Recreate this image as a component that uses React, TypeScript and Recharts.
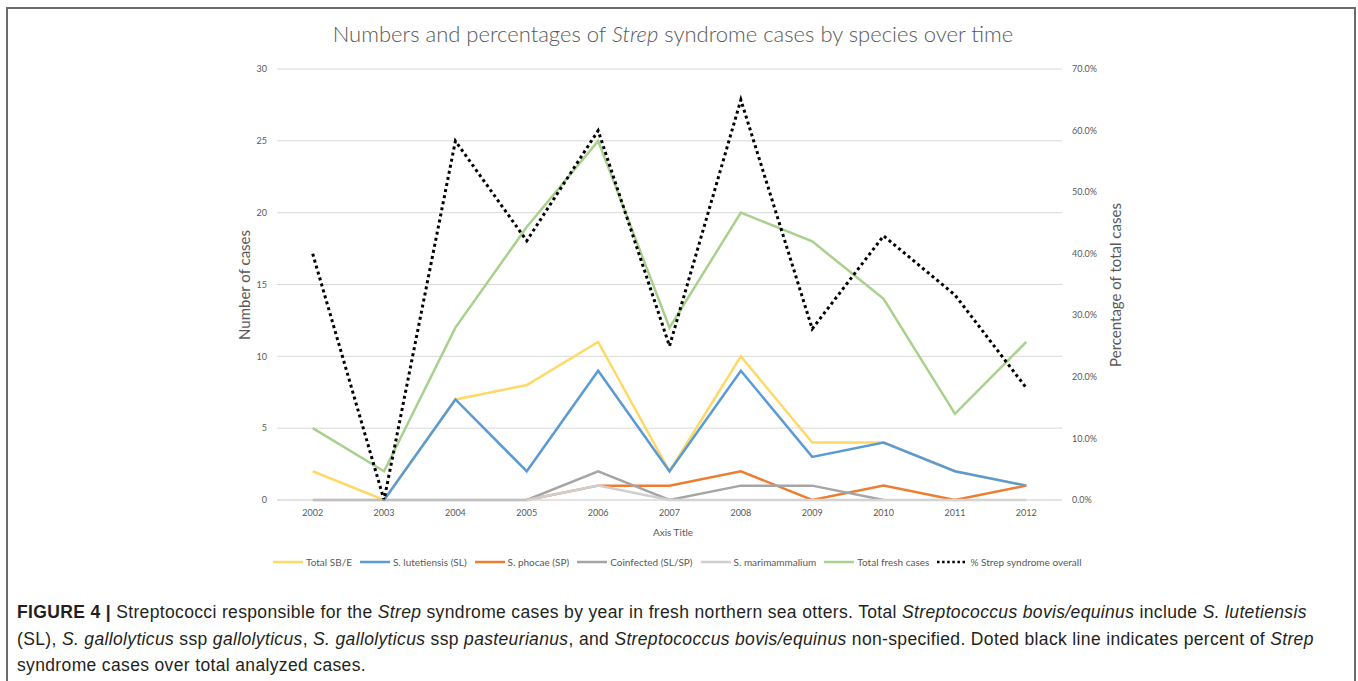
import React from 'react';
import { ComposedChart, Line, XAxis, YAxis, CartesianGrid } from 'recharts';

const years = ['2002', '2003', '2004', '2005', '2006', '2007', '2008', '2009', '2010', '2011', '2012'];
const totalSbe = [2, 0, 7, 8, 11, 2, 10, 4, 4, 2, 1];
const lutetiensis = [null, 0, 7, 2, 9, 2, 9, 3, 4, 2, 1];
const phocae = [null, null, null, 0, 1, 1, 2, 0, 1, 0, 1];
const coinfected = [0, 0, 0, 0, 2, 0, 1, 1, 0, null, null];
const marimammalium = [null, null, null, 0, 1, 0, 0, 0, 0, 0, 0];
const totalFresh = [5, 2, 12, 19, 25, 12, 20, 18, 14, 6, 11];
const strepPct = [40.0, 0.0, 58.3, 42.1, 60.0, 25.0, 65.0, 27.8, 42.9, 33.3, 18.2];

const countTicks = [0, 5, 10, 15, 20, 25, 30];
const pctTicks = [0, 10, 20, 30, 40, 50, 60, 70];

const series = [
  { key: 'sbe', name: 'Total SB/E', color: '#FFD966', values: totalSbe },
  { key: 'sl', name: 'S. lutetiensis (SL)', color: '#5B9BD5', values: lutetiensis },
  { key: 'sp', name: 'S. phocae (SP)', color: '#ED7D31', values: phocae },
  { key: 'co', name: 'Coinfected (SL/SP)', color: '#A5A5A5', values: coinfected },
  { key: 'sm', name: 'S. marimammalium', color: '#D0CECE', values: marimammalium },
  { key: 'fresh', name: 'Total fresh cases', color: '#A9D18E', values: totalFresh },
];

const chartData = years.map((year, i) => {
  const row: Record<string, string | number | null> = { year, pct: strepPct[i] };
  series.forEach((s) => {
    row[s.key] = s.values[i];
  });
  return row;
});

const FONT = 'Lato, "Open Sans", sans-serif';
const GREY = '#595959';
const axisTick = { fill: GREY, fontSize: 9, fontFamily: FONT };

function LegendRow() {
  return (
    <div
      style={{
        position: 'absolute',
        left: 273,
        top: 556,
        display: 'flex',
        alignItems: 'center',
        fontFamily: FONT,
        fontSize: 10,
        color: GREY,
        whiteSpace: 'nowrap',
      }}
    >
      {series.map((s) => (
        <div key={s.key} style={{ display: 'flex', alignItems: 'center', marginRight: 8 }}>
          <svg width={30} height={6} style={{ marginRight: 3 }}>
            <line x1={0} y1={3} x2={30} y2={3} stroke={s.color} strokeWidth={2.5} />
          </svg>
          <span>{s.name}</span>
        </div>
      ))}
      <div style={{ display: 'flex', alignItems: 'center' }}>
        <svg width={29} height={6} style={{ marginRight: 4 }}>
          <line x1={0} y1={3} x2={29} y2={3} stroke="#000" strokeWidth={2.5} strokeDasharray="2.5 2.6" />
        </svg>
        <span>% Strep syndrome overall</span>
      </div>
    </div>
  );
}

export default function App() {
  return (
    <div style={{ position: 'absolute', left: 0, top: 0, width: 1358, height: 681, overflow: 'hidden', background: '#fff' }}>
      <div
        style={{
          position: 'absolute',
          left: 6,
          top: 7,
          width: 1350,
          height: 700,
          border: '2px solid #6b6b6b',
          boxSizing: 'border-box',
        }}
      />
      <div
        style={{
          position: 'absolute',
          left: 0,
          width: 1346,
          top: 20,
          textAlign: 'center',
          fontFamily: FONT,
          fontSize: 22,
          fontWeight: 300,
          color: GREY,
          whiteSpace: 'nowrap',
        }}
      >
        Numbers and percentages of <i>Strep</i> syndrome cases by species over time
      </div>

      <div style={{ position: 'absolute', left: 0, top: 0 }}>
        <ComposedChart
          width={1358}
          height={600}
          data={chartData}
          margin={{ top: 69, right: 246, bottom: 60, left: 227 }}
        >
          <CartesianGrid yAxisId="count" vertical={false} stroke="#d9d9d9" strokeWidth={1} />
          <XAxis
            dataKey="year"
            scale="band"
            height={40}
            tick={axisTick}
            tickLine={false}
            tickSize={0}
            tickMargin={10}
            axisLine={{ stroke: '#d9d9d9' }}
          />
          <YAxis
            yAxisId="count"
            orientation="left"
            width={50}
            domain={[0, 30]}
            ticks={countTicks}
            tick={axisTick}
            tickLine={false}
            tickSize={0}
            tickMargin={10}
            axisLine={false}
          />
          <YAxis
            yAxisId="pct"
            orientation="right"
            width={50}
            domain={[0, 70]}
            ticks={pctTicks}
            tickFormatter={(v: number) => `${v.toFixed(1)}%`}
            tick={axisTick}
            tickLine={false}
            tickSize={0}
            tickMargin={10}
            axisLine={false}
          />
          {series.map((s) => (
            <Line
              key={s.key}
              yAxisId="count"
              type="linear"
              dataKey={s.key}
              name={s.name}
              stroke={s.color}
              strokeWidth={2.5}
              dot={false}
              activeDot={false}
              isAnimationActive={false}
            />
          ))}
          <Line
            yAxisId="pct"
            type="linear"
            dataKey="pct"
            name="% Strep syndrome overall"
            stroke="#000"
            strokeWidth={3}
            strokeDasharray="3 3.2"
            dot={false}
            activeDot={false}
            isAnimationActive={false}
          />
        </ComposedChart>
      </div>

      <div
        style={{
          position: 'absolute',
          left: 244,
          top: 285,
          transform: 'translate(-50%, -50%) rotate(-90deg)',
          fontFamily: FONT,
          fontSize: 15,
          color: GREY,
          whiteSpace: 'nowrap',
        }}
      >
        Number of cases
      </div>
      <div
        style={{
          position: 'absolute',
          left: 1115,
          top: 285,
          transform: 'translate(-50%, -50%) rotate(-90deg)',
          fontFamily: FONT,
          fontSize: 15,
          color: GREY,
          whiteSpace: 'nowrap',
        }}
      >
        Percentage of total cases
      </div>
      <div
        style={{
          position: 'absolute',
          left: 673,
          top: 532,
          transform: 'translate(-50%, -50%)',
          fontFamily: FONT,
          fontSize: 10,
          color: GREY,
          whiteSpace: 'nowrap',
        }}
      >
        Axis Title
      </div>

      <LegendRow />

      <div
        style={{
          position: 'absolute',
          left: 17,
          top: 599,
          fontFamily: '"Liberation Sans", Arial, sans-serif',
          fontSize: 17.5,
          letterSpacing: '0.35px',
          lineHeight: '26.5px',
          color: '#231f20',
          whiteSpace: 'nowrap',
        }}
      >
        <b>FIGURE 4 |</b> Streptococci responsible for the <i>Strep</i> syndrome cases by year in fresh northern sea
        otters. Total <i>Streptococcus bovis/equinus</i> include <i>S. lutetiensis</i>
        <br />
        (SL), <i>S. gallolyticus</i> ssp <i>gallolyticus</i>, <i>S. gallolyticus</i> ssp <i>pasteurianus</i>, and{' '}
        <i>Streptococcus bovis/equinus</i> non-specified. Doted black line indicates percent of <i>Strep</i>
        <br />
        syndrome cases over total analyzed cases.
      </div>
    </div>
  );
}
